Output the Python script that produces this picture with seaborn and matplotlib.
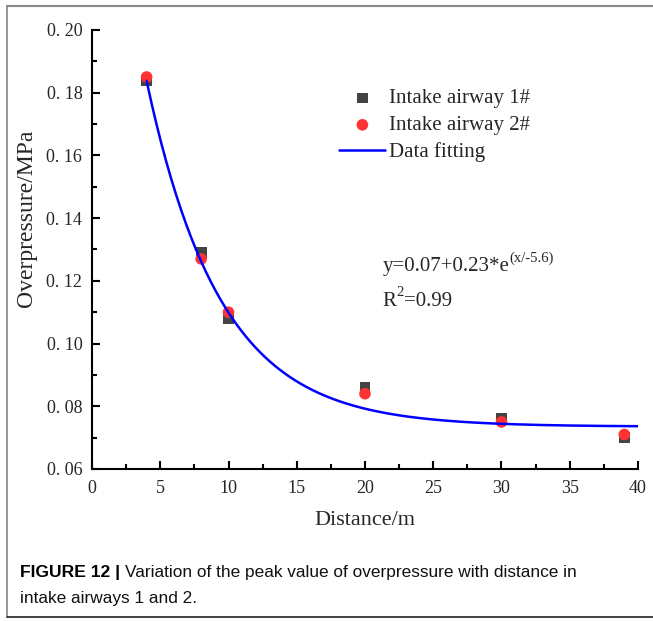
import numpy as np
import pandas as pd
import matplotlib
matplotlib.use("Agg")
import matplotlib.pyplot as plt
import seaborn as sns
from matplotlib.lines import Line2D
from matplotlib.ticker import MultipleLocator, FuncFormatter

# Data
distance = [4, 8, 10, 20, 30, 39]
airway_1 = [0.184, 0.129, 0.108, 0.086, 0.076, 0.070]
airway_2 = [0.185, 0.127, 0.110, 0.084, 0.075, 0.071]

# Exponential decay fit  y = y0 + A * exp(-x / t)
fit_y0 = 0.0735
fit_a = 0.231
fit_t = 5.41
fit_range = (4, 40)

sns.set_theme(style="ticks")
plt.rcParams["font.family"] = ["Liberation Serif", "DejaVu Serif"]

fig = plt.figure(figsize=(6.53, 6.21), dpi=100)
ax = fig.add_axes([0.1409, 0.2448, 0.8361, 0.7069])

fit_x = np.linspace(fit_range[0], fit_range[1], 300)
fit_df = pd.DataFrame({"x": fit_x, "y": fit_y0 + fit_a * np.exp(-fit_x / fit_t)})
pts = pd.DataFrame({"x": distance, "y1": airway_1, "y2": airway_2})

sns.lineplot(data=fit_df, x="x", y="y", ax=ax, color="#0000ff", lw=1.8,
             label="Data fitting", zorder=3)
sns.scatterplot(data=pts, x="x", y="y1", ax=ax, marker="s", s=60, color="#444444",
                edgecolor="none", label="Intake airway 1#", zorder=2)
sns.scatterplot(data=pts, x="x", y="y2", ax=ax, marker="o", s=70, color="#ff3333",
                edgecolor="none", label="Intake airway 2#", zorder=2.5)

ax.set_xlim(0, 40)
ax.set_ylim(0.06, 0.20)
ax.xaxis.set_major_locator(MultipleLocator(5))
ax.xaxis.set_minor_locator(MultipleLocator(2.5))
ax.yaxis.set_major_locator(MultipleLocator(0.02))
ax.yaxis.set_minor_locator(MultipleLocator(0.01))
ax.yaxis.set_major_formatter(FuncFormatter(lambda v, p: f"{v:.2f}".replace(".", ". ")))
ax.tick_params(which="both", direction="in", width=1.5, color="black", labelsize=13)
ax.tick_params(which="major", length=6)
ax.tick_params(which="minor", length=3.5)
ax.tick_params(axis="x", pad=8)
ax.tick_params(axis="y", pad=7)

sns.despine(ax=ax)
for s in ["left", "bottom"]:
    ax.spines[s].set_linewidth(1.5)
    ax.spines[s].set_color("black")

ax.set_xlabel("Distance/m", fontsize=16, labelpad=10)
ax.set_ylabel("Overpressure/MPa", fontsize=17)
ax.yaxis.set_label_coords(-0.1, 0.572)

handles, labels = ax.get_legend_handles_labels()
order = [labels.index("Intake airway 1#"), labels.index("Intake airway 2#"),
         labels.index("Data fitting")]
ax.legend([handles[i] for i in order], [labels[i] for i in order],
          loc="upper left", bbox_to_anchor=(0.438, 0.885), frameon=False,
          fontsize=15, handlelength=2.2, handletextpad=0.2, labelspacing=0.35,
          borderaxespad=0)

# fit equation, superscripts drawn as separate smaller texts
eq_x, eq_y = 0.532, 0.45
r2_y = 0.372
eq = ax.text(eq_x, eq_y, "y=0.07+0.23*e", transform=ax.transAxes, fontsize=15,
             va="baseline")
ax.annotate("(x/-5.6)", xy=(1, eq_y + 0.022), xycoords=(eq, ax.transAxes),
            fontsize=10.5, va="baseline")
r2 = ax.text(eq_x, r2_y, "R", transform=ax.transAxes, fontsize=15, va="baseline")
sup = ax.annotate("2", xy=(1, r2_y + 0.022), xycoords=(r2, ax.transAxes),
                  fontsize=10.5, va="baseline")
ax.annotate("=0.99", xy=(1, r2_y), xycoords=(sup, ax.transAxes), fontsize=15,
            va="baseline")

# caption
fig.text(20 / 653, 1 - 573 / 621, "FIGURE 12 |", fontsize=12.6, fontweight="bold",
         family="Liberation Sans", va="center", color="black")
fig.text(125 / 653, 1 - 573 / 621,
         "Variation of the peak value of overpressure with distance in",
         fontsize=12.4, family="Liberation Sans", va="center", color="#111111")
fig.text(20 / 653, 1 - 599 / 621, "intake airways 1 and 2.", fontsize=12.4,
         family="Liberation Sans", va="center", color="#111111")

# frame around the figure (top, left, bottom)
fig.add_artist(Line2D([7 / 653, 1], [1 - 6 / 621, 1 - 6 / 621], color="#888888", lw=1.5))
fig.add_artist(Line2D([7 / 653, 7 / 653], [1 - 6 / 621, 1 - 617 / 621], color="#888888", lw=1.2))
fig.add_artist(Line2D([7 / 653, 1], [1 - 617 / 621, 1 - 617 / 621], color="#222222", lw=1.2))

fig.savefig("out.png", dpi=100)
